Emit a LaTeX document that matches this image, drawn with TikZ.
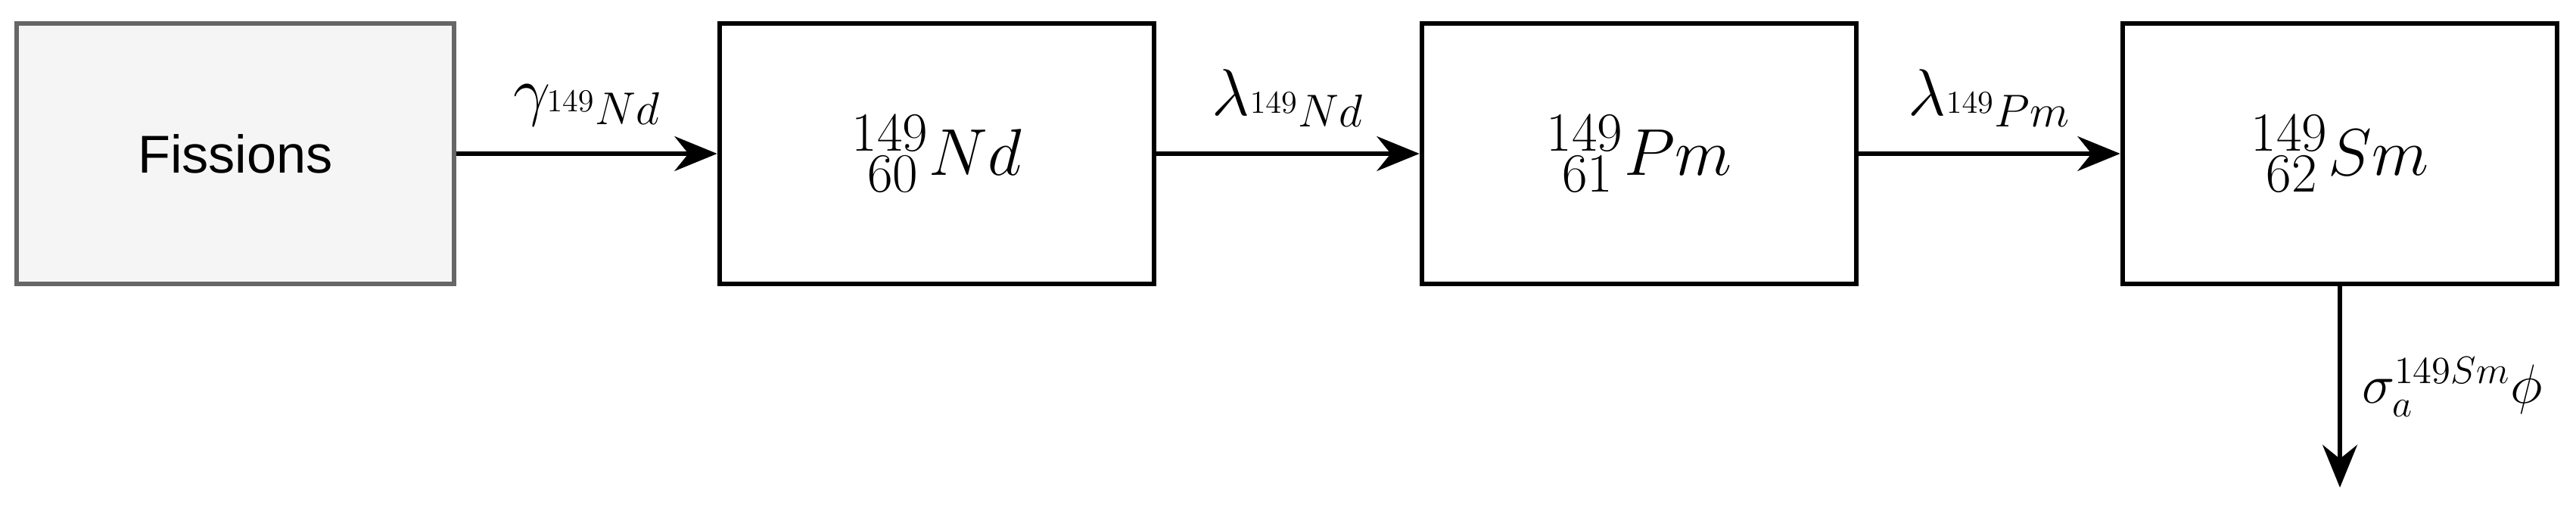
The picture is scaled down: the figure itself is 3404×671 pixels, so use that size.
\documentclass[tikz,border=0pt]{standalone}
\usepackage{fontspec}
\setsansfont{Liberation Sans}
\usetikzlibrary{arrows.meta}
\begin{document}
\begin{tikzpicture}[x=0.01cm,y=-0.01cm,
  box/.style={draw=black,line width=1.8pt,minimum width=5.74cm,minimum height=3.44cm,inner sep=0,fill=white},
  arr/.style={-{Stealth[length=16pt,width=13pt]},line width=1.8pt},
  lab/.style={font=\fontsize{24}{28}\selectfont,above=6pt}]
\useasboundingbox (0,0) rectangle (3404,671);
\node[box,draw=black!60,fill=black!4,minimum width=5.78cm] (f) at (311,203) {\sffamily\fontsize{20}{24}\selectfont Fissions};
\node[box] (nd) at (1238,203) {\fontsize{28}{32}\selectfont $^{149}_{\;60}Nd$};
\node[box] (pm) at (2166,203) {\fontsize{28}{32}\selectfont $^{149}_{\;61}Pm$};
\node[box] (sm) at (3092,203) {\fontsize{28}{32}\selectfont $^{149}_{\;62}Sm$};
\coordinate (out) at (3092,644);
\draw[arr] (f) -- node[lab]{$\gamma_{^{149}Nd}$} (nd);
\draw[arr] (nd) -- node[lab]{$\lambda_{^{149}Nd}$} (pm);
\draw[arr] (pm) -- node[lab]{$\lambda_{^{149}Pm}$} (sm);
\draw[arr] (sm) -- node[right=4pt,font=\fontsize{22}{26}\selectfont]{$\sigma_a^{149Sm}\phi$} (out);
\end{tikzpicture}
\end{document}
